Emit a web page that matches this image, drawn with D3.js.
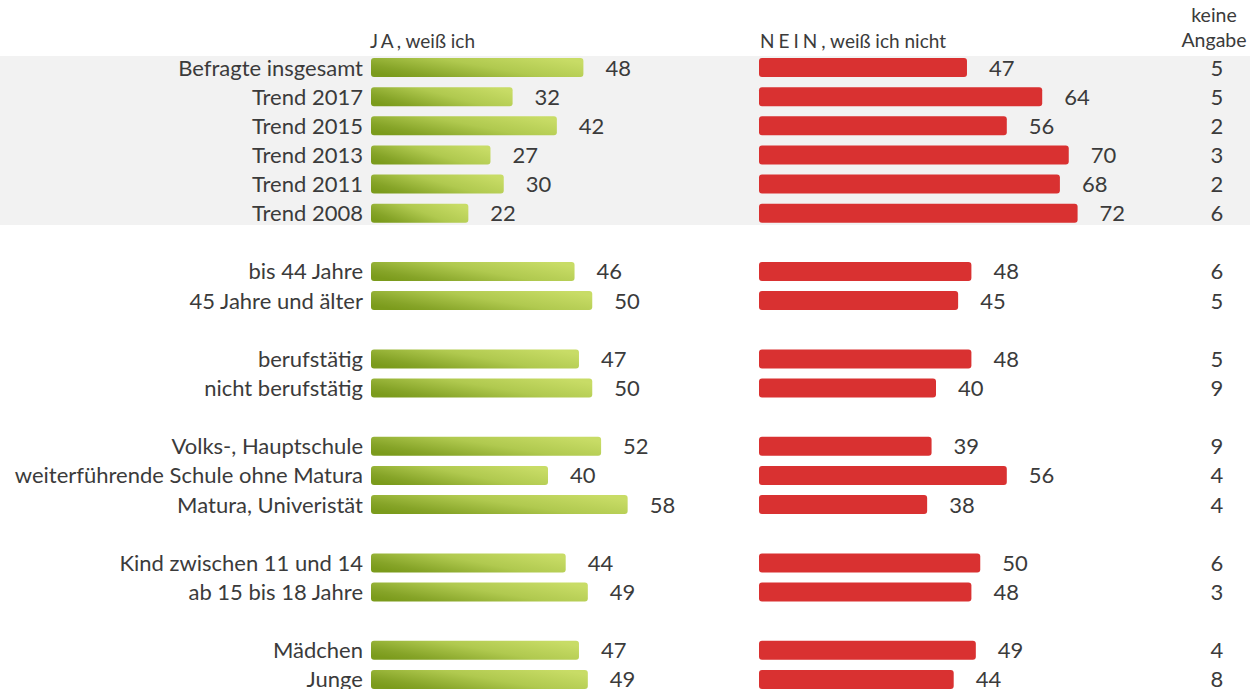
<!DOCTYPE html>
<html><head><meta charset="utf-8">
<script src="https://cdn.jsdelivr.net/npm/d3@7"></script>
<style>
html,body{margin:0;padding:0;background:#fff;}
svg{display:block;font-family:Lato,"Open Sans",sans-serif;}
</style></head>
<body>
<svg id="chart" width="1250" height="689"></svg>
<script>
// Data (empty string / null = spacer row between groups)
const categories = ["Befragte insgesamt","Trend 2017","Trend 2015","Trend 2013","Trend 2011","Trend 2008","",
  "bis 44 Jahre","45 Jahre und älter","",
  "berufstätig","nicht berufstätig","",
  "Volks-, Hauptschule","weiterführende Schule ohne Matura","Matura, Univeristät","",
  "Kind zwischen 11 und 14","ab 15 bis 18 Jahre","",
  "Mädchen","Junge"];
const jaValues    = [48,32,42,27,30,22,null, 46,50,null, 47,50,null, 52,40,58,null, 44,49,null, 47,49];
const neinValues  = [47,64,56,70,68,72,null, 48,45,null, 48,40,null, 39,56,38,null, 50,48,null, 49,44];
const keineValues = [5,5,2,3,2,6,null, 6,5,null, 5,9,null, 9,4,4,null, 6,3,null, 4,8];
const trendRows = [0,1,2,3,4,5];
const headerJa = "JA";
const headerJaRest = ", weiß ich";
const headerNein = "NEIN";
const headerNeinRest = ", weiß ich nicht";
const headerKeine = ["keine","Angabe"];

const svg = d3.select("#chart");
const textColor = "#3b3b3b";
const fontSize = 22;
const baseOff = 8;

const y = d3.scaleBand()
  .domain(d3.range(categories.length))
  .range([52.93, 52.93 + 29.14*categories.length])
  .paddingInner(0.348).paddingOuter(0.174);
const xJa = d3.scaleLinear().domain([0,100]).range([371, 371+442.5]);
const xNein = d3.scaleLinear().domain([0,100]).range([759, 759+442.5]);
const cy = i => y(i) + y.bandwidth()/2;

// gradient
const defs = svg.append("defs");
const g = defs.append("linearGradient").attr("id","greenGrad")
  .attr("x1","0").attr("y1","0.75").attr("x2","1").attr("y2","0.25");
g.append("stop").attr("offset","0%").attr("stop-color","#7b9b1c");
g.append("stop").attr("offset","15%").attr("stop-color","#86a428");
g.append("stop").attr("offset","55%").attr("stop-color","#b0c94f");
g.append("stop").attr("offset","100%").attr("stop-color","#c8dc66");

// gray trend band
svg.append("rect")
  .attr("x",0).attr("width",1250)
  .attr("y", cy(trendRows[0]) - 11.5)
  .attr("height", cy(trendRows[trendRows.length-1]) + 11.8 - (cy(trendRows[0]) - 11.5))
  .attr("fill","#f2f2f2");

// headers
const hJa = svg.append("text").attr("x",370).attr("y",48).attr("fill",textColor).attr("font-size",19);
hJa.append("tspan").attr("letter-spacing","3").text(headerJa);
hJa.append("tspan").text(headerJaRest);
const hNein = svg.append("text").attr("x",760).attr("y",48).attr("fill",textColor).attr("font-size",19);
hNein.append("tspan").attr("letter-spacing","4").text(headerNein);
hNein.append("tspan").text(headerNeinRest);
svg.append("g").selectAll("text").data(headerKeine).join("text")
  .attr("x",1214).attr("y",(d,i)=>22+i*25).attr("text-anchor","middle")
  .attr("fill",textColor).attr("font-size",19.5).text(d=>d);

const rows = d3.range(categories.length).filter(i => jaValues[i] !== null);

// category labels
svg.append("g").selectAll("text").data(rows).join("text")
  .attr("x",363).attr("y",i=>cy(i)+baseOff).attr("text-anchor","end")
  .attr("fill",textColor).attr("font-size",fontSize).text(i=>categories[i]);

// JA bars
svg.append("g").selectAll("rect").data(rows).join("rect")
  .attr("x",xJa(0)).attr("y",i=>y(i)).attr("height",y.bandwidth())
  .attr("width",i=>xJa(jaValues[i])-xJa(0)).attr("rx",3)
  .attr("fill","url(#greenGrad)");
svg.append("g").selectAll("text").data(rows).join("text")
  .attr("x",i=>xJa(jaValues[i])+22).attr("y",i=>cy(i)+baseOff)
  .attr("fill",textColor).attr("font-size",fontSize).text(i=>jaValues[i]);

// NEIN bars
svg.append("g").selectAll("rect").data(rows).join("rect")
  .attr("x",xNein(0)).attr("y",i=>y(i)).attr("height",y.bandwidth())
  .attr("width",i=>xNein(neinValues[i])-xNein(0)).attr("rx",3)
  .attr("fill","#d93131");
svg.append("g").selectAll("text").data(rows).join("text")
  .attr("x",i=>xNein(neinValues[i])+22).attr("y",i=>cy(i)+baseOff)
  .attr("fill",textColor).attr("font-size",fontSize).text(i=>neinValues[i]);

// keine Angabe
svg.append("g").selectAll("text").data(rows).join("text")
  .attr("x",1217).attr("y",i=>cy(i)+baseOff).attr("text-anchor","middle")
  .attr("fill",textColor).attr("font-size",fontSize).text(i=>keineValues[i]);
</script>
</body></html>
